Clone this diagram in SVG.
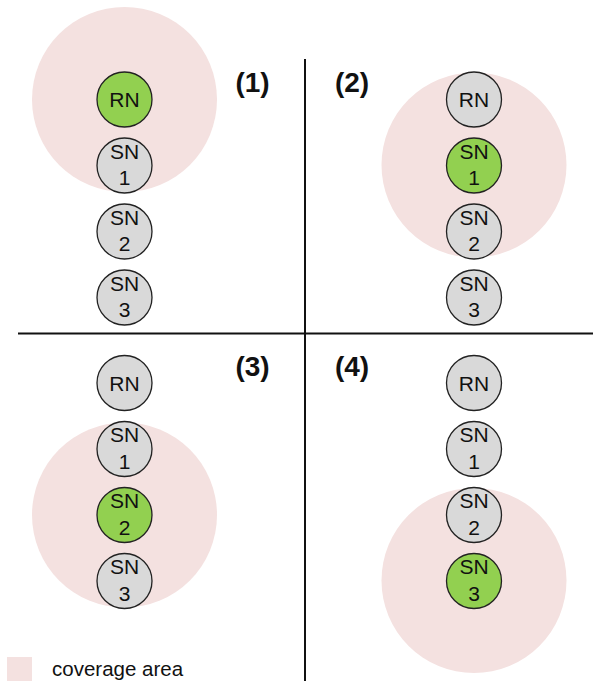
<svg xmlns="http://www.w3.org/2000/svg" width="593" height="681" viewBox="0 0 593 681">
<style>
.cov{fill:#f4e1e0;stroke:none}
.n{stroke:#222;stroke-width:1.3}
.g{fill:#d9d9d9}
.a{fill:#92d050}
.t{font-family:"Liberation Sans",Arial,sans-serif;font-size:21px;fill:#111;text-anchor:middle}
.lab{font-family:"Liberation Sans",Arial,sans-serif;font-size:28px;font-weight:bold;fill:#111;text-anchor:middle}
.ln{stroke:#111;stroke-width:2;fill:none}
</style>
<g id="coverage">
<circle class="cov" cx="124.5" cy="99.5" r="92.5"/>
<circle class="cov" cx="474" cy="165" r="92.5"/>
<circle class="cov" cx="124.5" cy="515" r="92.5"/>
<circle class="cov" cx="474" cy="580.5" r="92.5"/>
</g>
<g id="connectors">
<line class="ln" x1="18" y1="333.5" x2="593" y2="333.5"/>
<line class="ln" x1="305" y1="59" x2="305" y2="681"/>
</g>
<g id="p1">
<g id="p1-rn"><circle class="n a" cx="124.5" cy="99.5" r="27.5"/><text class="t" x="124.5" y="107">RN</text></g>
<g id="p1-sn1"><circle class="n g" cx="124.5" cy="165.5" r="27.5"/><text class="t" x="124.5" y="158.5">SN</text><text class="t" x="124.5" y="185">1</text></g>
<g id="p1-sn2"><circle class="n g" cx="124.5" cy="231.5" r="27.5"/><text class="t" x="124.5" y="224.5">SN</text><text class="t" x="124.5" y="251">2</text></g>
<g id="p1-sn3"><circle class="n g" cx="124.5" cy="297.5" r="27.5"/><text class="t" x="124.5" y="290.5">SN</text><text class="t" x="124.5" y="317">3</text></g>
<text class="lab" x="252.5" y="92">(1)</text>
</g>
<g id="p2">
<g id="p2-rn"><circle class="n g" cx="474" cy="99.5" r="27.5"/><text class="t" x="474" y="107">RN</text></g>
<g id="p2-sn1"><circle class="n a" cx="474" cy="165.5" r="27.5"/><text class="t" x="474" y="158.5">SN</text><text class="t" x="474" y="185">1</text></g>
<g id="p2-sn2"><circle class="n g" cx="474" cy="231.5" r="27.5"/><text class="t" x="474" y="224.5">SN</text><text class="t" x="474" y="251">2</text></g>
<g id="p2-sn3"><circle class="n g" cx="474" cy="297.5" r="27.5"/><text class="t" x="474" y="290.5">SN</text><text class="t" x="474" y="317">3</text></g>
<text class="lab" x="352" y="92">(2)</text>
</g>
<g id="p3">
<g id="p3-rn"><circle class="n g" cx="124.5" cy="383" r="27.5"/><text class="t" x="124.5" y="390.5">RN</text></g>
<g id="p3-sn1"><circle class="n g" cx="124.5" cy="449" r="27.5"/><text class="t" x="124.5" y="442">SN</text><text class="t" x="124.5" y="468.5">1</text></g>
<g id="p3-sn2"><circle class="n a" cx="124.5" cy="515" r="27.5"/><text class="t" x="124.5" y="508">SN</text><text class="t" x="124.5" y="534.5">2</text></g>
<g id="p3-sn3"><circle class="n g" cx="124.5" cy="581" r="27.5"/><text class="t" x="124.5" y="574">SN</text><text class="t" x="124.5" y="600.5">3</text></g>
<text class="lab" x="252.5" y="376">(3)</text>
</g>
<g id="p4">
<g id="p4-rn"><circle class="n g" cx="474" cy="383" r="27.5"/><text class="t" x="474" y="390.5">RN</text></g>
<g id="p4-sn1"><circle class="n g" cx="474" cy="449" r="27.5"/><text class="t" x="474" y="442">SN</text><text class="t" x="474" y="468.5">1</text></g>
<g id="p4-sn2"><circle class="n g" cx="474" cy="515" r="27.5"/><text class="t" x="474" y="508">SN</text><text class="t" x="474" y="534.5">2</text></g>
<g id="p4-sn3"><circle class="n a" cx="474" cy="581" r="27.5"/><text class="t" x="474" y="574">SN</text><text class="t" x="474" y="600.5">3</text></g>
<text class="lab" x="352" y="376">(4)</text>
</g>
<g id="legend">
<rect class="cov" x="7" y="657" width="25" height="24"/>
<text x="52" y="676" font-family="Liberation Sans, Arial, sans-serif" font-size="20.5" fill="#111">coverage area</text>
</g>
</svg>
